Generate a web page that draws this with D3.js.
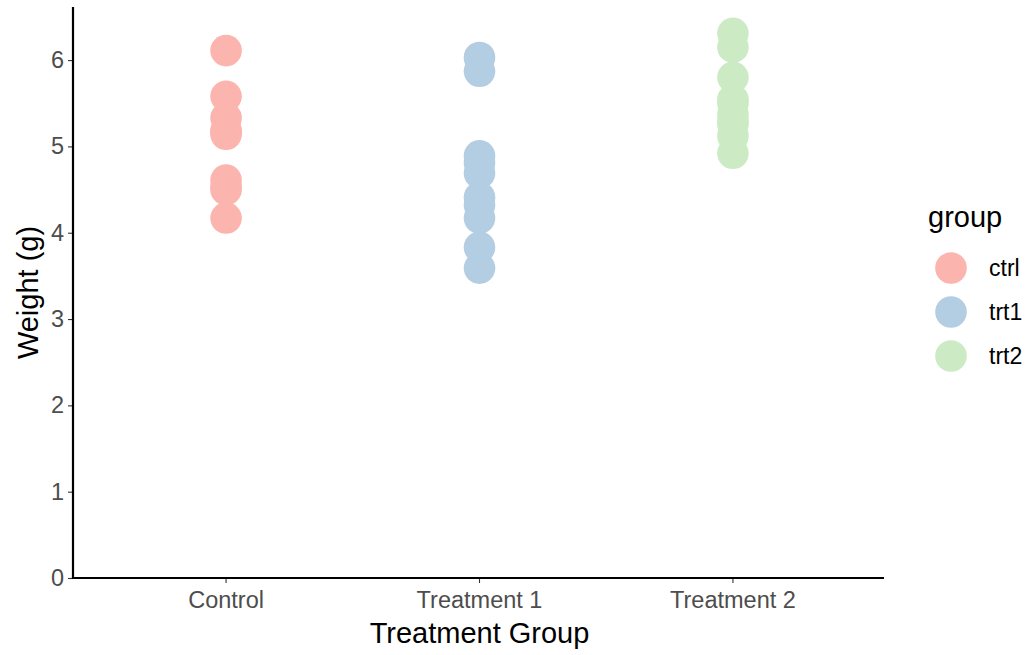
<!DOCTYPE html>
<html><head><meta charset="utf-8">
<script src="https://cdn.jsdelivr.net/npm/d3@7"></script>
<style>body{margin:0;background:#fff}svg{display:block;font-family:"Liberation Sans",Arial,sans-serif}</style>
</head><body><svg id="c" width="1032" height="655"></svg>
<script>
const groups = ["ctrl","trt1","trt2"];
const groupLabels = ["Control","Treatment 1","Treatment 2"];
const ctrl = [4.17,5.58,5.18,6.11,4.50,4.61,5.17,4.53,5.33,5.14];
const trt1 = [4.81,4.17,4.41,3.59,5.87,3.83,6.03,4.89,4.32,4.69];
const trt2 = [6.31,5.12,5.54,5.50,5.37,5.29,4.92,6.15,5.80,5.26];
const colors = ["#FBB4AE","#B3CDE3","#CCEBC5"];
const yTicks = [0,1,2,3,4,5,6];

const svg = d3.select("#c");
const L=73, R=884, T=7, B=578;
const xc = d3.scalePoint().domain(groups).range([L+(R-L)*0.6/3.2, R-(R-L)*0.6/3.2]);
const y = d3.scaleLinear().domain([0,6.615]).range([B,T]);
const col = d3.scaleOrdinal().domain(groups).range(colors);
const FF = "Liberation Sans, Arial, sans-serif";

const data = [];
[ctrl,trt1,trt2].forEach((arr,i)=>arr.forEach(v=>data.push({g:groups[i],v})));

svg.append("g").selectAll("circle").data(data).join("circle")
  .attr("cx",d=>xc(d.g)+1).attr("cy",d=>y(d.v)).attr("r",15.8)
  .attr("fill",d=>col(d.g));

// axes
const ya = svg.append("g").attr("transform",`translate(${L},0)`)
  .call(d3.axisLeft(y).tickValues(yTicks).tickSize(5).tickPadding(4).tickFormat(d3.format("d")));
ya.select(".domain").remove();
ya.selectAll(".tick line").attr("stroke","#333").attr("stroke-width",1.1);
ya.selectAll(".tick text").attr("fill","#4d4d4d").attr("font-size",23.5).attr("font-family",FF);
svg.append("line").attr("x1",L).attr("x2",L).attr("y1",T).attr("y2",B+0.6).attr("stroke","#000").attr("stroke-width",2.2);

const xa = svg.append("g").attr("transform",`translate(0,${B})`)
  .call(d3.axisBottom(xc).tickSize(5).tickPadding(8).tickFormat((d,i)=>groupLabels[i]));
xa.select(".domain").remove();
xa.selectAll(".tick").attr("transform",d=>`translate(${xc(d)+1},0)`);
xa.selectAll(".tick line").attr("stroke","#333").attr("stroke-width",1.1);
xa.selectAll(".tick text").attr("fill","#4d4d4d").attr("font-size",23.5).attr("font-family",FF);
svg.append("line").attr("x1",L-1.1).attr("x2",R).attr("y1",B).attr("y2",B).attr("stroke","#000").attr("stroke-width",2.2);

svg.append("text").attr("x",(L+R)/2+1).attr("y",643).attr("text-anchor","middle")
  .attr("font-size",29).text("Treatment Group");
svg.append("text").attr("transform",`translate(38,${(T+B)/2}) rotate(-90)`).attr("text-anchor","middle")
  .attr("font-size",29).text("Weight (g)");

// legend
const lg = svg.append("g");
lg.append("text").attr("x",928).attr("y",227).attr("font-size",29).text("group");
groups.forEach((g,i)=>{
  const cy = 268 + i*44;
  lg.append("circle").attr("cx",951).attr("cy",cy).attr("r",15.8).attr("fill",col(g));
  lg.append("text").attr("x",989).attr("y",cy+8).attr("font-size",23).text(g);
});
</script></body></html>
